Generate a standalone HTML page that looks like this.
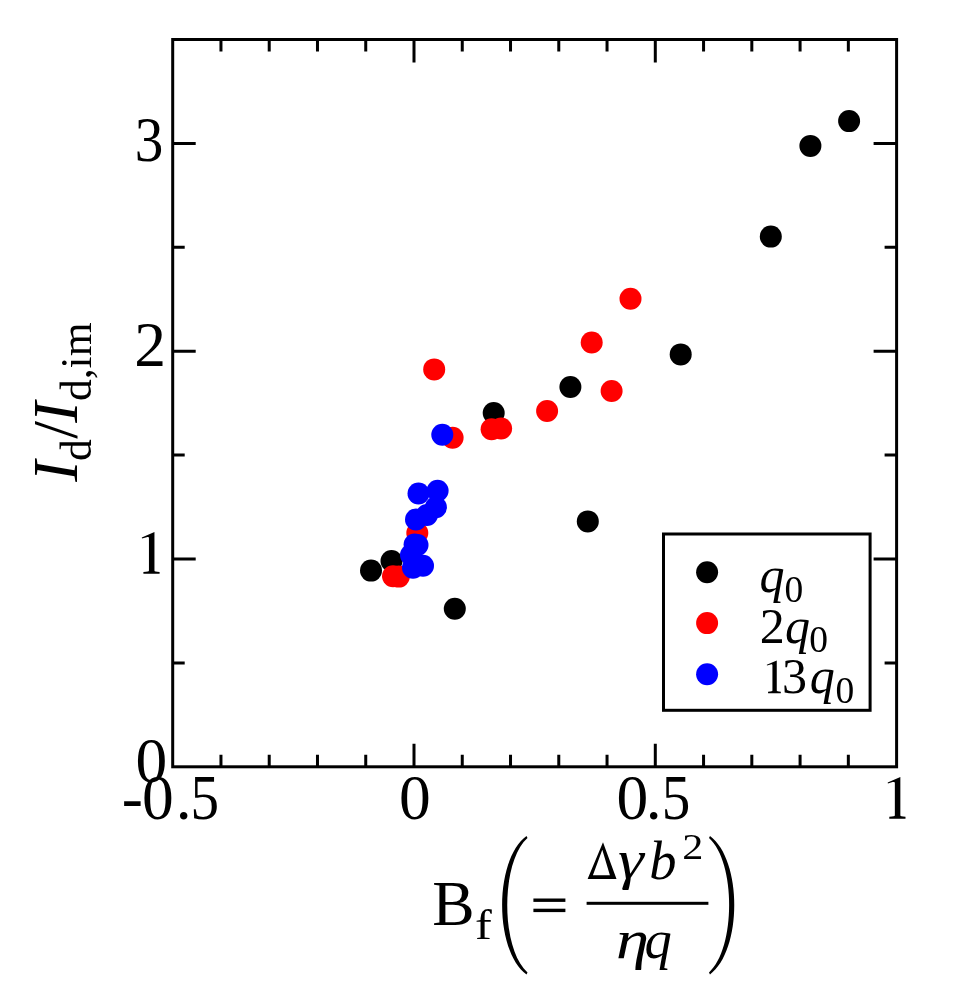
<!DOCTYPE html><html><head><meta charset="utf-8"><style>html,body{margin:0;padding:0;background:#fff;}svg{display:block;will-change:transform}</style></head><body>
<svg width="966" height="1002" viewBox="0 0 966 1002">
<rect width="966" height="1002" fill="#fff"/>
<path d="M220.96,766.80V754.80M220.96,39.50V51.50M269.22,766.80V754.80M269.22,39.50V51.50M317.48,766.80V754.80M317.48,39.50V51.50M365.74,766.80V754.80M365.74,39.50V51.50M414.00,766.80V743.80M414.00,39.50V62.50M462.26,766.80V754.80M462.26,39.50V51.50M510.52,766.80V754.80M510.52,39.50V51.50M558.78,766.80V754.80M558.78,39.50V51.50M607.04,766.80V754.80M607.04,39.50V51.50M655.30,766.80V743.80M655.30,39.50V62.50M703.56,766.80V754.80M703.56,39.50V51.50M751.82,766.80V754.80M751.82,39.50V51.50M800.08,766.80V754.80M800.08,39.50V51.50M848.34,766.80V754.80M848.34,39.50V51.50M172.70,662.90H184.70M896.60,662.90H884.60M172.70,559.00H195.70M896.60,559.00H873.60M172.70,455.10H184.70M896.60,455.10H884.60M172.70,351.20H195.70M896.60,351.20H873.60M172.70,247.30H184.70M896.60,247.30H884.60M172.70,143.40H195.70M896.60,143.40H873.60" stroke="#000" stroke-width="3.0" fill="none"/>
<rect x="172.7" y="39.5" width="723.90" height="727.30" fill="none" stroke="#000" stroke-width="3.0"/>
<g font-family="Liberation Serif, serif" font-size="63.5" fill="#000">
<text x="135.48" y="781.80">0</text>
<text x="134.31" y="366.20">2</text>
<text transform="translate(134.77,160.60) scale(0.9,1)">3</text>
<path transform="translate(151.7,573.8) scale(1.0)" d="M2.75,-41.7 L2.75,-3.4 C2.75,-2.4 4.2,-2.1 7.9,-1.9 L7.9,0 L-8.3,0 L-8.3,-1.9 C-4.3,-2.1 -2.75,-2.4 -2.75,-3.4 L-2.75,-35.6 C-2.75,-36.8 -3.6,-37.0 -5.0,-36.6 L-9.7,-35.3 L-9.9,-36.3 Z"/>
<path transform="translate(897.6,818.7) scale(1.0)" d="M2.75,-41.7 L2.75,-3.4 C2.75,-2.4 4.2,-2.1 7.9,-1.9 L7.9,0 L-8.3,0 L-8.3,-1.9 C-4.3,-2.1 -2.75,-2.4 -2.75,-3.4 L-2.75,-35.6 C-2.75,-36.8 -3.6,-37.0 -5.0,-36.6 L-9.7,-35.3 L-9.9,-36.3 Z"/>
<text x="121.64" y="818.50">-</text>
<text x="142.08" y="818.50">0</text>
<text x="175.71" y="818.50">.</text>
<text transform="translate(190.48,818.50) scale(0.9,1)">5</text>
<text x="398.88" y="818.50">0</text>
<text x="616.48" y="818.50">0</text>
<text x="645.81" y="818.50">.</text>
<text transform="translate(661.68,818.50) scale(0.9,1)">5</text>
</g>
<text transform="rotate(-90)" font-family="Liberation Serif, serif" fill="#000"><tspan x="-481.85" y="76.5" font-style="italic" font-size="63.5">I</tspan><tspan x="-461" y="91" font-size="43.5">d</tspan><tspan x="-438.7" y="76.5" font-size="63.5">/</tspan><tspan x="-422.85" y="76.5" font-style="italic" font-size="63.5">I</tspan><tspan x="-401" y="91" font-size="43.5">d,im</tspan></text>
<g font-family="Liberation Serif, serif" fill="#000">
<text x="432.3" y="925.1" font-size="63.5">B</text>
<text transform="translate(475,938.7) scale(1.2,1)" font-size="42">f</text>
<path d="M526.5,836 C494,860 494,950.5 526.5,974.5 L527.5,972.5 C500.5,948.5 500.5,862 527.5,838 Z"/>
<path d="M710,836 C742.5,860 742.5,950.5 710,974.5 L709,972.5 C736,948.5 736,862 709,838 Z"/>
<rect x="533.4" y="898.5" width="32" height="3.4"/><rect x="533.4" y="908.7" width="32" height="3.4"/>
<rect x="586.6" y="901.8" width="121.8" height="3"/>
<path fill-rule="evenodd" d="M603,842.2 L587.6,879.1 L616.5,879.1 Z M602.3,849.8 L592.9,875.2 L609.9,875.2 Z"/>
<text transform="translate(618,878.4) scale(1.2,1)" font-size="54.5" font-style="italic">&#947;</text>
<text x="649.2" y="878.6" font-size="54.5" font-style="italic">b</text>
<text transform="translate(682.2,858.6) scale(1.15,1)" font-size="36.7">2</text>
<text transform="translate(616,958.2) scale(1.22,1)" font-size="54.5" font-style="italic">&#951;</text>
<text x="644.5" y="958.2" font-size="54.5" font-style="italic">q</text>
</g>
<g fill="#000"><circle cx="849.1" cy="121.1" r="11"/><circle cx="810.4" cy="145.9" r="11"/><circle cx="770.8" cy="236.6" r="11"/><circle cx="680.7" cy="354.4" r="11"/><circle cx="570.4" cy="387" r="11"/><circle cx="493.7" cy="413" r="11"/><circle cx="587.8" cy="521.4" r="11"/><circle cx="454.8" cy="608.8" r="11"/><circle cx="371" cy="570.6" r="11"/><circle cx="391.5" cy="561" r="11"/></g>
<g fill="#f00"><circle cx="630.5" cy="298.7" r="11"/><circle cx="591.7" cy="342.5" r="11"/><circle cx="434.2" cy="369.4" r="11"/><circle cx="611.6" cy="391" r="11"/><circle cx="547.1" cy="411" r="11"/><circle cx="491.6" cy="429.3" r="11"/><circle cx="501.1" cy="428.5" r="11"/><circle cx="452.6" cy="437.8" r="11"/><circle cx="417.3" cy="533" r="11"/><circle cx="393" cy="576.2" r="11"/><circle cx="398.8" cy="576.6" r="11"/></g>
<g fill="#00f"><circle cx="442.3" cy="434.7" r="11"/><circle cx="418.5" cy="493.5" r="11"/><circle cx="437.6" cy="490.7" r="11"/><circle cx="435.9" cy="507.3" r="11"/><circle cx="427" cy="515" r="11"/><circle cx="416" cy="519.5" r="11"/><circle cx="414.6" cy="544.5" r="11"/><circle cx="417.5" cy="545" r="11"/><circle cx="411" cy="555" r="11"/><circle cx="423" cy="565.7" r="11"/><circle cx="413" cy="567.8" r="11"/></g>
<rect x="663.5" y="534" width="206.6" height="176.3" fill="#fff" stroke="#000" stroke-width="3"/>
<circle cx="707.1" cy="572.2" r="11" fill="#000"/>
<circle cx="707.1" cy="623.1" r="11" fill="#f00"/>
<circle cx="707.1" cy="674.2" r="11" fill="#00f"/>
<g font-family="Liberation Serif, serif" fill="#000">
<text x="759.5" y="591.9" font-size="50" font-style="italic">q</text><text x="784.5" y="602.3" font-size="37.5">0</text>
<text x="759.8" y="642.5" font-size="50">2</text><text x="785" y="642.5" font-size="50" font-style="italic">q</text><text x="809.2" y="651.7" font-size="37.5">0</text>
<path transform="translate(774.6,693.2) scale(0.787)" d="M2.75,-41.7 L2.75,-3.4 C2.75,-2.4 4.2,-2.1 7.9,-1.9 L7.9,0 L-8.3,0 L-8.3,-1.9 C-4.3,-2.1 -2.75,-2.4 -2.75,-3.4 L-2.75,-35.6 C-2.75,-36.8 -3.6,-37.0 -5.0,-36.6 L-9.7,-35.3 L-9.9,-36.3 Z"/><text x="781.9" y="693.2" font-size="50">3</text><text x="809.7" y="693.2" font-size="50" font-style="italic">q</text><text x="835.5" y="703.4" font-size="37.5">0</text>
</g>
</svg></body></html>
